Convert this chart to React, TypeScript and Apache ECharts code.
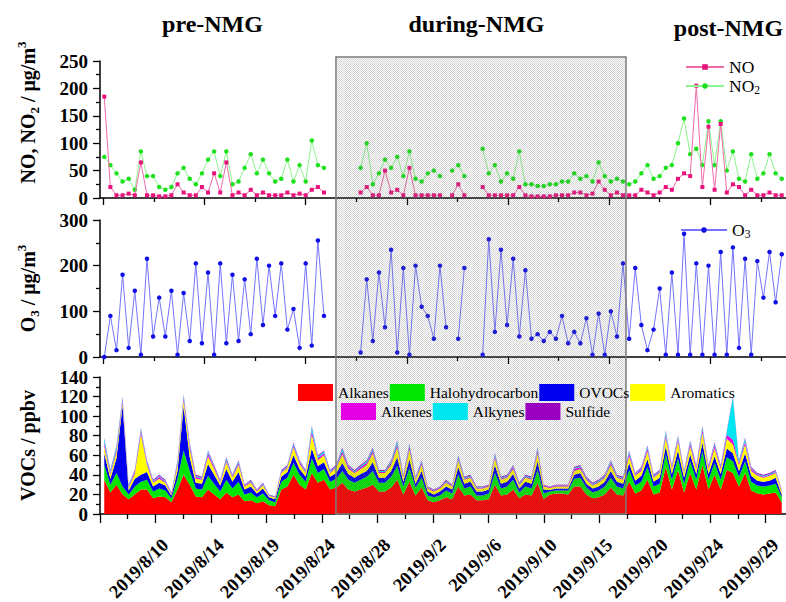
import React, { useEffect, useRef } from 'react';
import * as echarts from 'echarts';

// ---------- data ----------
const tickLabels = ['2019/8/10', '2019/8/14', '2019/8/19', '2019/8/24', '2019/8/28', '2019/9/2',
  '2019/9/6', '2019/9/10', '2019/9/15', '2019/9/20', '2019/9/24', '2019/9/29'];
const periodTitles = ['pre-NMG', 'during-NMG', 'post-NMG'];
// during-NMG period, in days from the axis origin
const duringPeriod = [19.33, 43.09];
// two samples per day (night / afternoon), day fraction
const sampleOffsets = [0.35, 0.85];

const no = [
  185, 20, 5, 5, 8, 5, 65, 5, 5, 3, 3, 5, 25, 10, 5, 5, 20, 10, 45, 10,
  65, 5, 10, 5, 15, 5, 10, 5, 5, 5, 10, 5, 8, 5, 15, 20, 10, null, null, null,
  null, null, 10, 20, 5, 5, 50, 10, 15, 5, 55, 5, 5, 5, 5, 5, null, 5, 25, 5,
  null, null, 20, 5, 5, 5, 5, 5, 20, 5, 3, 3, 3, 3, 5, 5, 5, 10, 10, 5,
  8, 30, 15, 5, 10, 5, 5, 5, 15, 10, 5, 10, 20, 15, 35, 45, 40, 205, 20, 130,
  15, 135, 10, 25, 20, 5, 15, 5, 5, 10, 5, 5,
];
const no2 = [
  75, 60, 45, 30, 35, 15, 85, 40, 40, 20, 15, 20, 45, 55, 35, 25, 45, 70, 85, 40,
  85, 25, 30, 55, 80, 45, 70, 45, 30, 35, 70, 30, 60, 30, 105, 60, 55, null, null, null,
  null, null, 55, 100, 25, 45, 70, 55, 75, 40, 85, 35, 30, 45, 50, 40, null, 50, 60, 40,
  null, null, 90, 45, 60, 30, 45, 35, 85, 25, 25, 22, 22, 25, 25, 30, 30, 45, 35, 40,
  30, 65, 40, 30, 35, 30, 25, 30, 45, 60, 35, 40, 55, 60, 100, 145, 80, 90, 60, 140,
  60, 140, 50, 85, 35, 30, 80, 35, 45, 80, 45, 35,
];
const o3 = [
  0, 90, 15, 180, 20, 145, 5, 215, 45, 130, 45, 145, 5, 140, 35, 205, 30, 185, 5, 205,
  30, 180, 35, 170, 50, 215, 70, 200, 90, 205, 60, 105, 20, 205, 25, 255, 90, null, null, null,
  null, null, 10, 170, 35, 185, 65, 235, 10, 195, 5, 200, 110, 90, 40, 200, 65, null, 40, 195,
  null, null, 5, 258, 55, 235, 70, 215, 45, 190, 40, 50, 35, 55, 40, 90, 30, 55, 30, 85,
  5, 95, 5, 100, 45, 205, 40, 195, 70, 15, 60, 150, 5, 185, 5, 270, 5, 205, 5, 200,
  5, 230, 5, 240, 20, 215, 5, 210, 130, 230, 120, 225,
];

const alkanes = [
  35, 22, 30, 20, 15, 20, 25, 25, 16, 18, 17, 12, 25, 40, 30, 18, 17, 25, 20, 15,
  22, 17, 20, 13, 14, 11, 13, 9, 8, 25, 28, 40, 30, 25, 42, 32, 35, 25, 27, 32,
  25, 23, 25, 27, 30, 23, 23, 27, 35, 20, 33, 19, 27, 14, 12, 14, 17, 15, 28, 19,
  20, 14, 14, 15, 30, 19, 20, 25, 16, 20, 19, 32, 15, 20, 21, 21, 20, 28, 28, 20,
  16, 17, 20, 27, 20, 19, 33, 21, 24, 35, 20, 22, 48, 25, 45, 22, 42, 25, 50, 25,
  40, 25, 45, 42, 28, 42, 24, 21, 20, 21, 22, 12,
];
const halohydrocarbon = [
  15, 8, 12, 8, 5, 8, 8, 10, 7, 8, 7, 4, 11, 25, 14, 8, 8, 14, 11, 8,
  13, 9, 13, 7, 8, 6, 8, 5, 4, 8, 9, 12, 10, 8, 15, 10, 11, 8, 9, 12,
  10, 9, 10, 11, 14, 9, 9, 11, 14, 8, 14, 8, 10, 5, 5, 5, 7, 6, 12, 7,
  8, 5, 5, 6, 12, 7, 8, 10, 6, 8, 7, 13, 6, 3, 3, 3, 4, 8, 9, 7,
  6, 7, 8, 10, 8, 7, 12, 8, 9, 13, 8, 9, 13, 10, 12, 9, 12, 10, 14, 10,
  12, 10, 13, 12, 10, 12, 9, 8, 8, 8, 9, 5,
];
const ovocs = [
  12, 6, 15, 83, 4, 8, 7, 8, 5, 6, 5, 3, 8, 45, 14, 6, 6, 12, 9, 6,
  11, 7, 10, 5, 6, 4, 5, 3, 3, 5, 6, 8, 6, 5, 10, 7, 7, 5, 6, 8,
  6, 5, 6, 6, 9, 5, 5, 6, 9, 5, 9, 4, 7, 4, 3, 4, 4, 4, 8, 5,
  5, 4, 4, 4, 8, 5, 5, 6, 4, 5, 5, 9, 4, 1.5, 2, 2, 2, 4, 5, 4,
  4, 4, 5, 7, 5, 5, 7, 5, 6, 8, 5, 6, 8, 6, 8, 6, 7, 6, 9, 6,
  7, 6, 9, 8, 6, 8, 6, 5, 5, 5, 6, 3,
];
const aromatics = [
  7, 4, 6, 3, 3, 5, 42, 7, 4, 4, 3, 1, 6, 6, 9, 4, 4, 8, 6, 3,
  7, 4, 7, 3, 4, 2, 3, 1.5, 1.5, 4, 4, 8, 5, 4, 14, 6, 7, 4, 5, 9,
  5, 5, 5, 6, 9, 5, 5, 6, 10, 4, 10, 4, 6, 3, 3, 3, 4, 3, 7, 4,
  4, 3, 3, 3, 7, 4, 4, 5, 3, 4, 4, 8, 3, 2, 2, 2, 2, 4, 4, 4,
  3, 4, 4, 6, 4, 4, 7, 5, 5, 8, 4, 5, 9, 5, 9, 5, 8, 5, 10, 5,
  8, 5, 10, 9, 6, 9, 5, 5, 4, 5, 5, 3,
];
const alkenes = [
  4, 2, 3, 3, 1, 2, 3, 2, 1, 2, 1, 1, 2, 3, 3, 2, 1, 3, 2, 1,
  2, 1, 2, 1, 1, 1, 1, 0.5, 0.5, 1, 1, 2, 2, 1, 4, 2, 2, 1, 1, 3,
  2, 1, 2, 2, 3, 1, 1, 2, 3, 1, 3, 1, 2, 1, 1, 1, 1, 1, 2, 1,
  1, 1, 1, 1, 2, 1, 1, 2, 1, 1, 1, 3, 1, 1, 1, 1, 1, 2, 2, 1,
  1, 1, 1, 2, 1, 1, 3, 1, 2, 3, 1, 1, 3, 2, 3, 1, 3, 2, 3, 2,
  3, 2, 4, 5, 2, 3, 2, 1, 1, 1, 1, 1,
];
const alkynes = [
  4, 2, 3, 2, 1, 1, 2, 2, 1, 1, 1, 0.5, 2, 2, 2, 1, 1, 2, 1, 1,
  2, 1, 2, 0.5, 1, 0.5, 1, 0.5, 0.5, 1, 1, 2, 1, 1, 4, 2, 2, 1, 1, 3,
  1, 1, 1, 2, 2, 1, 1, 2, 3, 1, 2, 1, 2, 0.5, 0.5, 0.5, 1, 0.5, 2, 1,
  1, 0.5, 0.5, 0.5, 2, 1, 1, 1, 1, 1, 1, 2, 0.5, 0.3, 0.5, 0.5, 0.5, 1, 1, 1,
  1, 1, 1, 2, 1, 1, 2, 1, 1, 2, 1, 1, 3, 1, 2, 1, 2, 1, 3, 1,
  2, 1, 3, 43, 2, 3, 1, 1, 1, 1, 1, 0.5,
];
const sulfide = [
  1, 1, 1, 1, 1, 1, 1, 1, 1, 1, 1, 0.5, 1, 1, 1, 1, 1, 1, 1, 1,
  1, 1, 1, 0.5, 1, 0.5, 1, 0.5, 0.5, 1, 1, 1, 1, 1, 1, 1, 1, 1, 1, 1,
  1, 1, 1, 1, 1, 1, 1, 1, 1, 1, 1, 1, 1, 0.5, 0.5, 0.5, 1, 0.5, 1, 1,
  1, 0.5, 0.5, 0.5, 1, 1, 1, 1, 1, 1, 1, 1, 0.5, 0.2, 0.5, 0.5, 0.5, 1, 1, 1,
  1, 1, 1, 1, 1, 1, 1, 1, 1, 1, 1, 1, 1, 1, 1, 1, 1, 1, 1, 1,
  1, 1, 1, 1, 1, 1, 1, 1, 1, 1, 1, 0.5,
];

const vocNames = ['Alkanes', 'Halohydrocarbon', 'OVOCs', 'Aromatics', 'Alkenes', 'Alkynes', 'Sulfide'];
const vocValues = [alkanes, halohydrocarbon, ovocs, aromatics, alkenes, alkynes, sulfide];
const vocColors = ['#ff0000', '#00e600', '#0000f0', '#ffff00', '#e600e6', '#00e6f0', '#9a00c0'];

// ---------- layout / axis constants ----------
const SERIF = '"Liberation Serif", "Times New Roman", serif';
const X_MAX = 56.2;
const BOTTOM_STEP = 4.545;
const TOP_START = 0.27;
const TOP_STEP = 4.144;

const times = no.map((_, i) => Math.floor(i / 2) + sampleOffsets[i % 2]);
const pair = (arr: (number | null)[]) => arr.map((v, i) => [times[i], v == null ? '-' : v]);
// value first, time second: ECharts stacks the first numeric dimension
const pairValueFirst = (arr: number[]) => arr.map((v, i) => [v, times[i]]);

const bottomMajor = Array.from({ length: 13 }, (_, k) => k * BOTTOM_STEP);
const bottomMinor = Array.from({ length: 12 }, (_, k) => (k + 0.5) * BOTTOM_STEP);
const topMajor = Array.from({ length: 7 }, (_, j) => TOP_START + 2 * j * TOP_STEP);
const topMinor = Array.from({ length: 7 }, (_, j) => TOP_START + (2 * j + 1) * TOP_STEP);

const nameRich = {
  b: { fontFamily: SERIF, fontWeight: 'bold', fontSize: 20, lineHeight: 26, color: '#000' },
  s: { fontFamily: SERIF, fontWeight: 'bold', fontSize: 13, lineHeight: 14, verticalAlign: 'bottom', color: '#000' },
  p: { fontFamily: SERIF, fontWeight: 'bold', fontSize: 13, lineHeight: 14, verticalAlign: 'top', color: '#000' },
};
const legendRich = {
  b: { fontFamily: SERIF, fontSize: 17.5, lineHeight: 20, color: '#000' },
  s: { fontFamily: SERIF, fontSize: 11.5, lineHeight: 5, verticalAlign: 'bottom', color: '#000' },
};

function xAxisOf(grid: number, ticks: number[], len: number, withLine: boolean, labels: boolean) {
  return {
    type: 'value', gridIndex: grid, min: 0, max: X_MAX, position: 'bottom',
    axisLine: { show: withLine, onZero: false, lineStyle: { color: '#000', width: 1.5 } },
    axisTick: { show: true, customValues: ticks, length: len, lineStyle: { color: '#000', width: 1.3 } },
    splitLine: { show: false },
    axisLabel: labels ? {
      show: true, customValues: bottomMajor.slice(1), rotate: 45, margin: 18,
      align: 'right', verticalAlign: 'top', lineHeight: 28,
      fontFamily: SERIF, fontWeight: 'bold', fontSize: 18.5, color: '#000',
      formatter: (v: number) => {
        const k = Math.round(v / BOTTOM_STEP);
        return Math.abs(v - k * BOTTOM_STEP) < 1e-6 && k >= 1 ? (tickLabels[k - 1] ?? '') : '';
      },
    } : { show: false },
  };
}

function yAxisOf(grid: number, max: number, interval: number, name: string, padding: number[]) {
  return {
    type: 'value', gridIndex: grid, min: 0, max, interval,
    name, nameLocation: 'middle', nameGap: 59,
    nameTextStyle: { rich: nameRich, padding, fontFamily: SERIF, fontWeight: 'bold', fontSize: 20, color: '#000' },
    axisLine: { show: true, onZero: false, lineStyle: { color: '#000', width: 1.5 } },
    axisTick: { show: true, length: 7, lineStyle: { color: '#000', width: 1.3 } },
    minorTick: { show: true, splitNumber: 2, length: 4, lineStyle: { color: '#000', width: 1.3 } },
    axisLabel: { fontFamily: SERIF, fontWeight: 'bold', fontSize: 19, color: '#000', margin: 12 },
    splitLine: { show: false },
    minorSplitLine: { show: false },
  };
}

function makeStipple(): string | null {
  try {
    const c = document.createElement('canvas');
    c.width = 2; c.height = 2;
    const ctx = c.getContext('2d');
    if (!ctx) return null;
    ctx.fillStyle = 'rgba(110,110,110,0.3)';
    ctx.fillRect(0, 0, 1, 1);
    ctx.fillRect(1, 1, 1, 1);
    return c.toDataURL();
  } catch (e) {
    return null;
  }
}

export default function App() {
  const ref = useRef<HTMLDivElement>(null);
  useEffect(() => {
    if (!ref.current) return;
    const chart = echarts.init(ref.current, null, { renderer: 'svg' });
    const grids = [
      { left: 100, top: 61, width: 686, height: 137 },
      { left: 100, top: 220, width: 686, height: 137 },
      { left: 100, top: 377, width: 686, height: 137 },
    ].map((g) => ({ ...g, outerBoundsMode: 'none', containLabel: false }));

    const vocSeries = vocNames.map((name, i) => ({
      name, type: 'line', xAxisIndex: 2, yAxisIndex: 2, stack: 'voc',
      encode: { x: 1, y: 0 },
      data: pairValueFirst(vocValues[i]), symbol: 'none', showSymbol: false,
      lineStyle: { width: 0, color: vocColors[i] },
      itemStyle: { color: vocColors[i] },
      areaStyle: { color: vocColors[i], opacity: 1 },
      z: 2,
    }));

    const option: any = {
      animation: false,
      backgroundColor: '#ffffff',
      grid: grids,
      xAxis: [
        xAxisOf(0, topMajor, 7, true, false),
        xAxisOf(1, topMajor, 7, true, false),
        xAxisOf(2, bottomMajor, 9, true, true),
        xAxisOf(0, topMinor, 4, false, false),
        xAxisOf(1, topMinor, 4, false, false),
        xAxisOf(2, bottomMinor, 5, false, false),
      ],
      yAxis: [
        yAxisOf(0, 250, 50, '{b|NO, NO}{s|2}{b| / μg/m}{p|3}', [0, 0, 0, 34]),
        yAxisOf(1, 300, 100, '{b|O}{s|3}{b| / μg/m}{p|3}', [0, 0, 0, 0]),
        yAxisOf(2, 140, 20, '{b|VOCs / ppbv}', [0, 0, 0, 0]),
      ],
      legend: [
        {
          data: ['NO', 'NO2'], orient: 'vertical', left: 685, top: 58, padding: 0,
          itemWidth: 38, itemHeight: 7, itemGap: 1, selectedMode: false, z: 20,
          formatter: (n: string) => (n === 'NO2' ? '{b|NO}{s|2}' : '{b|NO}'),
          textStyle: { rich: legendRich, fontFamily: SERIF, fontSize: 17.5, color: '#000' },
        },
        {
          data: ['O3'], orient: 'vertical', left: 680, top: 221, padding: 0,
          itemWidth: 46, itemHeight: 7, selectedMode: false, z: 20,
          formatter: () => '{b|O}{s|3}',
          textStyle: { rich: legendRich, fontFamily: SERIF, fontSize: 17.5, color: '#000' },
        },
        {
          data: vocNames.slice(0, 4), orient: 'horizontal', left: 298, top: 384, padding: 0,
          itemWidth: 35, itemHeight: 17, itemGap: 1, icon: 'rect', selectedMode: false, z: 20,
          textStyle: { fontFamily: SERIF, fontSize: 15.5, color: '#000' },
        },
        {
          data: vocNames.slice(4), orient: 'horizontal', left: 341, top: 403, padding: 0,
          itemWidth: 35, itemHeight: 17, itemGap: 1, icon: 'rect', selectedMode: false, z: 20,
          textStyle: { fontFamily: SERIF, fontSize: 15.5, color: '#000' },
        },
      ],
      series: [
        {
          name: 'NO2', type: 'line', xAxisIndex: 0, yAxisIndex: 0, data: pair(no2),
          symbol: 'circle', symbolSize: 4.5, connectNulls: false,
          itemStyle: { color: '#1ee01e' }, lineStyle: { color: '#8cf58c', width: 1 }, z: 2,
        },
        {
          name: 'NO', type: 'line', xAxisIndex: 0, yAxisIndex: 0, data: pair(no),
          symbol: 'rect', symbolSize: 4, connectNulls: false,
          itemStyle: { color: '#e8127e' }, lineStyle: { color: '#f06aa8', width: 1 }, z: 3,
        },
        {
          name: 'O3', type: 'line', xAxisIndex: 1, yAxisIndex: 1, data: pair(o3),
          symbol: 'circle', symbolSize: 4.5, connectNulls: false,
          itemStyle: { color: '#1010e6' }, lineStyle: { color: '#7474ff', width: 1 }, z: 2,
        },
        ...vocSeries,
      ],
    };
    chart.setOption(option);

    const x0 = chart.convertToPixel({ xAxisIndex: 2 } as any, duringPeriod[0]) as number;
    const x1 = chart.convertToPixel({ xAxisIndex: 2 } as any, duringPeriod[1]) as number;
    const stipple = makeStipple();
    const fill: any = stipple
      ? { image: stipple, repeat: 'repeat', imageWidth: 2, imageHeight: 2 }
      : 'rgba(128,128,128,0.15)';
    const titleStyle = { fontFamily: SERIF, fontWeight: 'bold', fontSize: 24, fill: '#000', align: 'center', verticalAlign: 'middle' };
    chart.setOption({
      graphic: {
        elements: [
          {
            type: 'rect', silent: true, z: 10,
            shape: { x: x0, y: 57, width: x1 - x0, height: 514 - 57 },
            style: { fill, stroke: '#7a7a7a', lineWidth: 1.5 },
          },
          { type: 'text', x: 212.5, y: 23.6, z: 20, style: { ...titleStyle, text: periodTitles[0] } },
          { type: 'text', x: 476.5, y: 23.6, z: 20, style: { ...titleStyle, text: periodTitles[1] } },
          { type: 'text', x: 728.5, y: 27.6, z: 20, style: { ...titleStyle, text: periodTitles[2] } },
        ],
      },
    });
    return () => chart.dispose();
  }, []);
  return <div ref={ref} style={{ position: 'fixed', left: 0, top: 0, width: 786, height: 602, background: '#fff' }} />;
}
